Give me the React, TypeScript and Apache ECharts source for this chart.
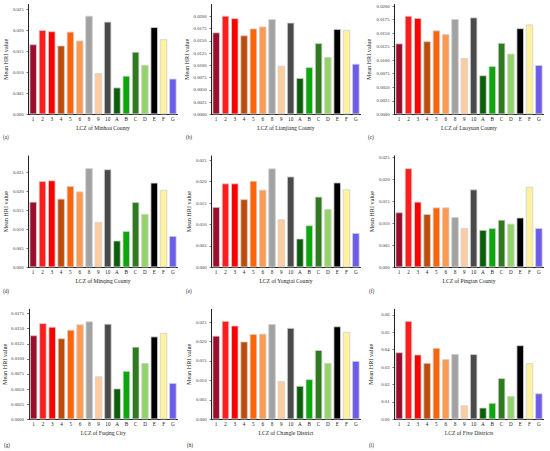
import React, { useEffect, useRef } from "react";
import * as echarts from "echarts";

const categories = ["1", "2", "3", "4", "5", "6", "8", "9", "10", "A", "B", "C", "D", "E", "F", "G"];
const barColors = ["#9B0D2B", "#FF1C1C", "#FF0000", "#BF4B0A", "#FF6408", "#FF9A50", "#A2A2A2", "#FFCCA0", "#4A4A4A", "#0A5E0A", "#0AA80A", "#2F7A1F", "#93D46A", "#000000", "#FFF29E", "#6B5CEB"];

const minhou = [0.0167, 0.0201, 0.0198, 0.0164, 0.0197, 0.0176, 0.0235, 0.0098, 0.0221, 0.0064, 0.0092, 0.0149, 0.0118, 0.0208, 0.0179, 0.0085];
const lianjiang = [0.0167, 0.0201, 0.0196, 0.0161, 0.0175, 0.0179, 0.0194, 0.0099, 0.0187, 0.0074, 0.0096, 0.0145, 0.0117, 0.0174, 0.0172, 0.0103];
const luoyuan = [0.0131, 0.0182, 0.0178, 0.0135, 0.0155, 0.0148, 0.0176, 0.0104, 0.0179, 0.0072, 0.0089, 0.0132, 0.0112, 0.0159, 0.0166, 0.0091];
const minqing = [0.0172, 0.0226, 0.0228, 0.0180, 0.0213, 0.0199, 0.0260, 0.0119, 0.0257, 0.0070, 0.0095, 0.0171, 0.0140, 0.0222, 0.0203, 0.0082];
const yongtai = [0.0141, 0.0196, 0.0196, 0.0159, 0.0202, 0.0181, 0.0231, 0.0112, 0.0212, 0.0067, 0.0098, 0.0165, 0.0136, 0.0198, 0.0182, 0.0080];
const pingtan = [0.0125, 0.0225, 0.0149, 0.0121, 0.0136, 0.0136, 0.0114, 0.0089, 0.0177, 0.0085, 0.0089, 0.0108, 0.0099, 0.0113, 0.0183, 0.0089];
const fuqing = [0.0139, 0.0159, 0.0153, 0.0134, 0.0148, 0.0157, 0.0162, 0.0071, 0.0158, 0.0051, 0.0080, 0.0120, 0.0093, 0.0137, 0.0143, 0.0060];
const changle = [0.0215, 0.0253, 0.0241, 0.0200, 0.0219, 0.0220, 0.0245, 0.0098, 0.0235, 0.0086, 0.0103, 0.0178, 0.0145, 0.0239, 0.0225, 0.0150];
const fiveDistricts = [0.0385, 0.0565, 0.0372, 0.0324, 0.0410, 0.0345, 0.0375, 0.0080, 0.0374, 0.0067, 0.0094, 0.0236, 0.0134, 0.0425, 0.0322, 0.0149];

const ticks005 = [0, 0.005, 0.01, 0.015, 0.02, 0.025];
const ticks0025to020 = [0, 0.0025, 0.005, 0.0075, 0.01, 0.0125, 0.015, 0.0175, 0.02];
const ticks0025to0175 = [0, 0.0025, 0.005, 0.0075, 0.01, 0.0125, 0.015, 0.0175];
const ticks01 = [0, 0.01, 0.02, 0.03, 0.04, 0.05, 0.06];

const panelNames = [
  "LCZ of Minhou County", "LCZ of Lianjiang County", "LCZ of Luoyuan County",
  "LCZ of Minqing County", "LCZ of Yongtai County", "LCZ of Pingtan County",
  "LCZ of Fuqing City", "LCZ of Changle District", "LCZ of Five Districts",
];
const panelLetters = ["(a)", "(b)", "(c)", "(d)", "(e)", "(f)", "(g)", "(h)", "(i)"];
const panelData = [minhou, lianjiang, luoyuan, minqing, yongtai, pingtan, fuqing, changle, fiveDistricts];
const panelTicks = [ticks005, ticks0025to020, ticks0025to020, ticks005, ticks005, ticks005, ticks0025to0175, ticks005, ticks01];
const panelDecimals = [3, 4, 4, 3, 3, 3, 4, 3, 2];
const panelMax = [0.0262, 0.0224, 0.0203, 0.0292, 0.026, 0.0253, 0.0182, 0.0283, 0.0632];

const FONT = '"Liberation Serif", "Times New Roman", serif';

export default function App() {
  const ref = useRef<HTMLDivElement>(null);
  useEffect(() => {
    if (!ref.current) return;
    const chart = echarts.init(ref.current, undefined, { renderer: "svg" });
    const colLeft = [28.5, 211.5, 394.5];
    const rowTop = [4.5, 156, 309.3];
    const rowHeight = [109.8, 111.3, 110];
    const yNameGap = [20, 22, 23, 20, 20, 20, 22, 20, 21];
    const letterX = [3, 186, 368, 3, 186, 369, 4, 187, 369];
    const letterY = [137.5, 291, 445];

    const grids: any[] = [];
    const xAxes: any[] = [];
    const yAxes: any[] = [];
    const series: any[] = [];
    const graphics: any[] = [];

    for (let i = 0; i < 9; i++) {
      const r = Math.floor(i / 3);
      const c = i % 3;
      grids.push({ left: colLeft[c], top: rowTop[r], width: 149, height: rowHeight[r] });
      xAxes.push({
        type: "category",
        gridIndex: i,
        data: categories,
        name: panelNames[i],
        nameLocation: "middle",
        nameGap: 10.5,
        nameTextStyle: { fontFamily: FONT, fontSize: 5.6, color: "#222" },
        axisLine: { lineStyle: { color: "#222", width: 1 } },
        axisTick: { alignWithLabel: true, length: 2, lineStyle: { color: "#222", width: 0.6 } },
        axisLabel: { fontFamily: FONT, fontSize: 5.2, color: "#222", margin: 2.5, interval: 0 },
      });
      const dec = panelDecimals[i];
      yAxes.push({
        type: "value",
        gridIndex: i,
        min: 0,
        max: panelMax[i],
        name: "Mean HRI value",
        nameLocation: "middle",
        nameRotate: 90,
        nameGap: yNameGap[i],
        nameTextStyle: { fontFamily: FONT, fontSize: 6.2, color: "#222" },
        splitLine: { show: false },
        axisLine: { show: true, lineStyle: { color: "#222", width: 1 } },
        axisTick: { show: true, length: 2, customValues: panelTicks[i], lineStyle: { color: "#222", width: 0.6 } },
        axisLabel: {
          customValues: panelTicks[i],
          fontFamily: FONT,
          fontSize: 4.7,
          color: "#333",
          margin: 5,
          formatter: (v: number) => Number(v).toFixed(dec),
        },
      });
      series.push({
        type: "bar",
        xAxisIndex: i,
        yAxisIndex: i,
        barCategoryGap: "21%",
        data: panelData[i].map((v, k) => ({
          value: v,
          itemStyle: { color: barColors[k], borderColor: "#cfcfcf", borderWidth: 0.8 },
        })),
      });
      graphics.push({
        type: "text",
        left: letterX[i],
        top: letterY[r] - 3,
        style: { text: panelLetters[i], font: `5.2px ${FONT}`, fill: "#222" },
      });
    }

    chart.setOption({
      animation: false,
      backgroundColor: "#ffffff",
      grid: grids,
      xAxis: xAxes,
      yAxis: yAxes,
      series,
      graphic: graphics,
    });
    return () => chart.dispose();
  }, []);
  return (
    <div
      ref={ref}
      style={{ position: "fixed", left: 0, top: 0, width: 550, height: 451, background: "#fff" }}
    />
  );
}
